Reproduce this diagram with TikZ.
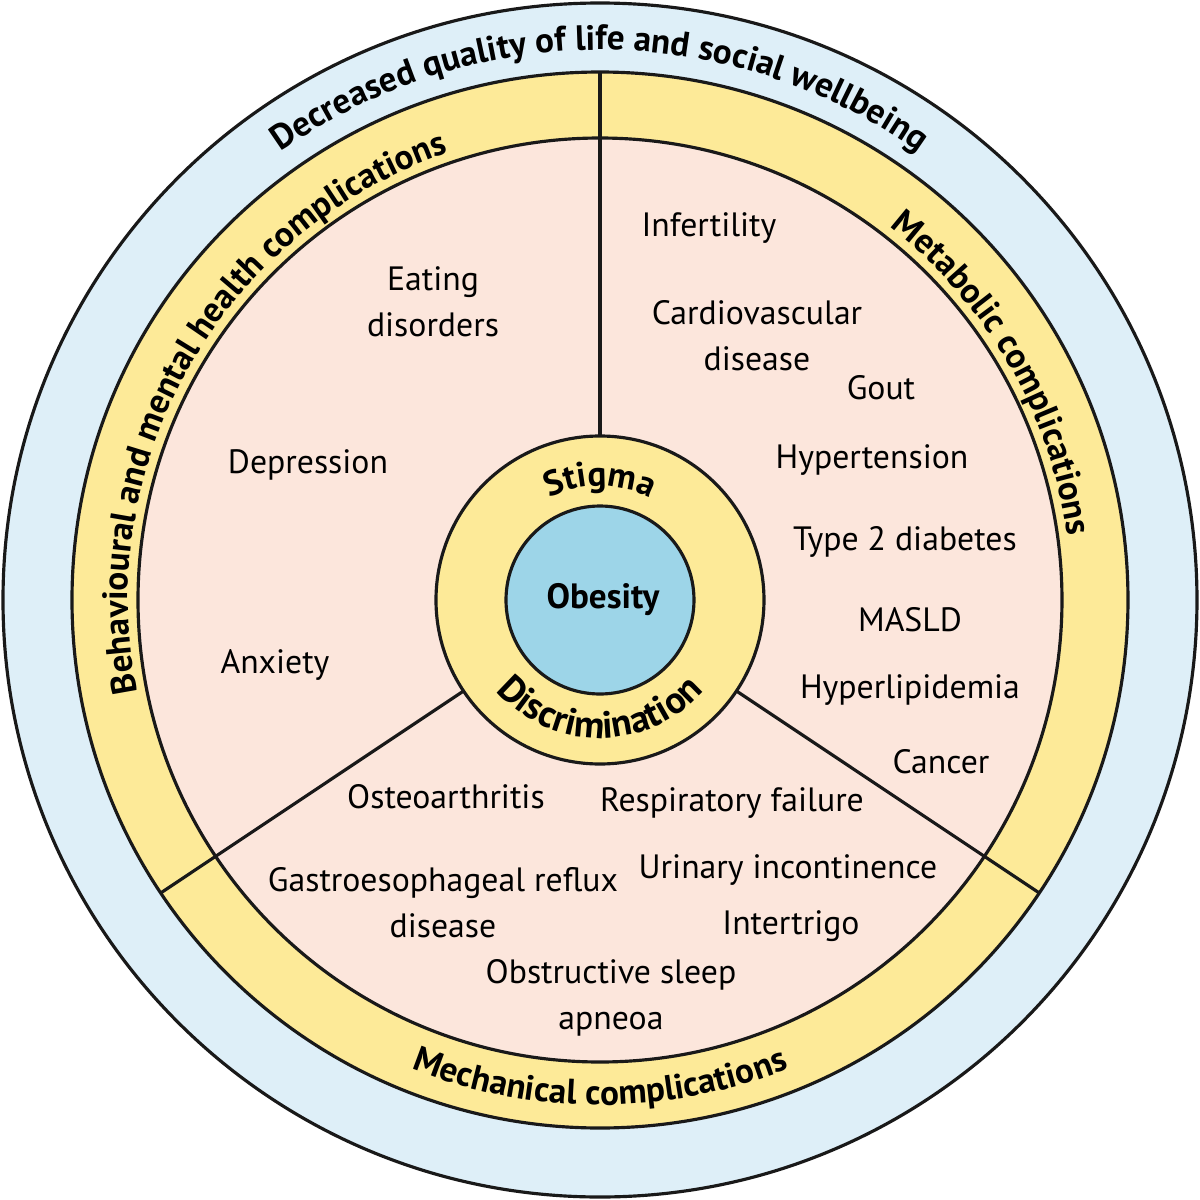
\documentclass[tikz,border=0pt]{standalone}
\usepackage{fontspec}
\setmainfont{PT Sans}
\usetikzlibrary{decorations.text}

\begin{document}
\begin{tikzpicture}

% =========================
% Color Definitions
% =========================
\definecolor{outerblue}{RGB}{222,239,248}
\definecolor{ringyellow}{RGB}{253,234,152}
\definecolor{innerpink}{RGB}{252,230,220}
\definecolor{coreblue}{RGB}{157,213,232}
\colorlet{line1}{black!90}

% =========================
% Ring Geometry
% =========================
\def\RO{5.97}  % outer edge
\def\RY{5.28}  % outer edge of the yellow ring
\def\RP{4.62}  % inner edge of the yellow ring
\def\RS{1.64}  % stigma ring
\def\RC{0.94}  % obesity core
\def\AL{213.7} % lower-left divider
\def\AR{326.3} % lower-right divider

\useasboundingbox (-6,-6) rectangle (6,6);

% =========================
% Styles
% =========================
\tikzset{
    ring/.style={draw=line1, line width=0.9pt},
    item/.style={align=center, inner sep=1pt, font=\fontsize{9.6}{13}\selectfont},
    ringtext/.style={decorate, decoration={text along path, text align=center, text={#1}}}
}
\newcommand{\ringfont}{\bfseries\fontsize{10}{12}\selectfont}
\newcommand{\corefont}{\bfseries\fontsize{10}{12}\selectfont}

% =========================
% Filled rings & Borders
% =========================
\fill[ring, fill=outerblue] (0,0) circle (\RO);
\fill[ring, fill=ringyellow] (0,0) circle (\RY);
\fill[ring, fill=innerpink] (0,0) circle (\RP);

% Divider lines
\coordinate (T1) at (90:\RS);
\coordinate (T2) at (90:\RY);
\coordinate (L1) at (\AL:\RS);
\coordinate (L2) at (\AL:\RY);
\coordinate (R1) at (\AR:\RS);
\coordinate (R2) at (\AR:\RY);
\draw[ring] (T1) -- (T2);
\draw[ring] (L1) -- (L2);
\draw[ring] (R1) -- (R2);

% Centre circles
\filldraw[ring, fill=ringyellow] (0,0) circle (\RS);
\filldraw[ring, fill=coreblue] (0,0) circle (\RC);
\node[font=\corefont] (obesity) at (0.03,0) {Obesity};

% =========================
% Curved Labels
% =========================
\path[ringtext={|\ringfont|Decreased quality of life and social wellbeing}]
    (160:5.5) arc[start angle=160, end angle=20, radius=5.5];
\path[ringtext={|\ringfont|Behavioural and mental health complications}]
    (205:4.72) arc[start angle=205, end angle=95, radius=4.72];
\path[ringtext={|\ringfont|Metabolic complications}]
    (65:4.72) arc[start angle=65, end angle=-5, radius=4.72];
\path[ringtext={|\ringfont|Mechanical complications}]
    (225:5.05) arc[start angle=225, end angle=315, radius=5.05];
\path[ringtext={|\corefont|Stigma}]
    (150:1.14) arc[start angle=150, end angle=30, radius=1.14];
\path[ringtext={|\bfseries\fontsize{10.8}{12}\selectfont|Discrimination}]
    (190:1.38) arc[start angle=190, end angle=350, radius=1.38];

% =========================
% Metabolic
% =========================
\node[item] (infert) at (1.09,3.72) {Infertility};
\node[item] (cardio) at (1.57,2.64) {Cardiovascular\\disease};
\node[item] (gout) at (2.81,2.12) {Gout};
\node[item] (hypert) at (2.72,1.40) {Hypertension};
\node[item] (diab) at (3.05,0.58) {Type 2 diabetes};
\node[item] (masld) at (3.10,-0.20) {MASLD};
\node[item] (hyperl) at (3.10,-0.90) {Hyperlipidemia};
\node[item] (cancer) at (3.41,-1.62) {Cancer};

% =========================
% Behavioural
% =========================
\node[item] (eating) at (-1.67,2.98) {Eating\\disorders};
\node[item] (depr) at (-2.92,1.35) {Depression};
\node[item] (anx) at (-3.25,-0.65) {Anxiety};

% =========================
% Mechanical
% =========================
\node[item] (osteo) at (-1.54,-1.97) {Osteoarthritis};
\node[item] (resp) at (1.32,-2.03) {Respiratory failure};
\node[item] (gerd) at (-1.57,-3.03) {Gastroesophageal reflux\\disease};
\node[item] (urin) at (1.88,-2.70) {Urinary incontinence};
\node[item] (inter) at (1.91,-3.26) {Intertrigo};
\node[item] (osa) at (0.11,-3.98) {Obstructive sleep\\apneoa};

\end{tikzpicture}
\end{document}
